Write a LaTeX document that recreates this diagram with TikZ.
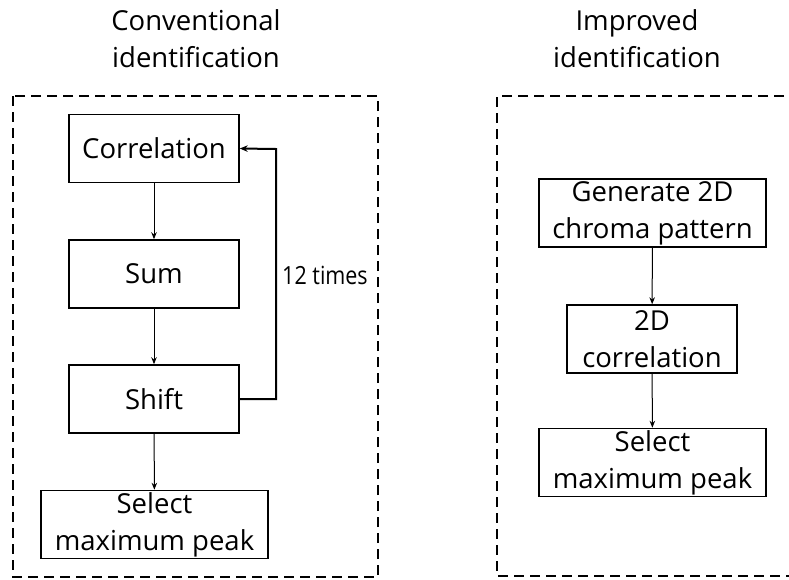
\documentclass[tikz,border=0pt]{standalone}
\usepackage{fontspec}
\setmainfont{Open Sans}
\usetikzlibrary{arrows.meta}
\begin{document}
\begin{tikzpicture}[x=1pt,y=-1pt,
  txt/.style={font=\fontsize{27.5}{37}\selectfont, align=center, inner sep=0pt},
  stepbox/.style={txt, draw, line width=1.5pt, minimum height=68pt},
  arr/.style={line width=1pt, -{Stealth[length=7pt,width=5.5pt]}},
  fb/.style={line width=2pt, -{Stealth[length=8pt,width=6.5pt]}},
  frame/.style={line width=2pt, dash pattern=on 10pt off 6pt}]
\useasboundingbox (0,0) rectangle (789,579);
\clip (0,0) rectangle (789,579);
% titles
\node[txt] (t1) at (196,39) {Conventional\\identification};
\node[txt] (t2) at (637,39) {Improved\\identification};
% frames
\draw[frame] (13,96) rectangle (378,577);
\draw[frame] (800,96) -- (497,96) -- (497,576) -- (800,576);
% left column
\node[stepbox, minimum width=170pt] (corr) at (154,148.5) {Correlation};
\node[stepbox, minimum width=170pt] (sum) at (154,274) {Sum};
\node[stepbox, minimum width=170pt] (shift) at (154,399) {Shift};
\node[stepbox, minimum width=227pt] (sel1) at (154.5,524.5) {Select\\maximum peak};
\draw[arr] (corr) -- (sum);
\draw[arr] (sum) -- (shift);
\draw[arr] (shift) -- (sel1);
\coordinate (fbb) at (276,399);
\coordinate (fbt) at (276,149);
\draw[fb] (shift.east) -- (fbb) -- (fbt) -- (corr.east);
\node[txt, font=\fontsize{25}{30}\selectfont] (times) at (325,275) {\scalebox{0.86}[1]{12 times}};
% right column
\node[stepbox, minimum width=227pt] (gen) at (652.5,213) {Generate 2D\\chroma pattern};
\node[stepbox, minimum width=170pt] (c2d) at (652,339) {2D\\correlation};
\node[stepbox, minimum width=227pt] (sel2) at (652.5,462.5) {Select\\maximum peak};
\draw[arr] (gen) -- (c2d);
\draw[arr] (c2d) -- (sel2);
\end{tikzpicture}
\end{document}
